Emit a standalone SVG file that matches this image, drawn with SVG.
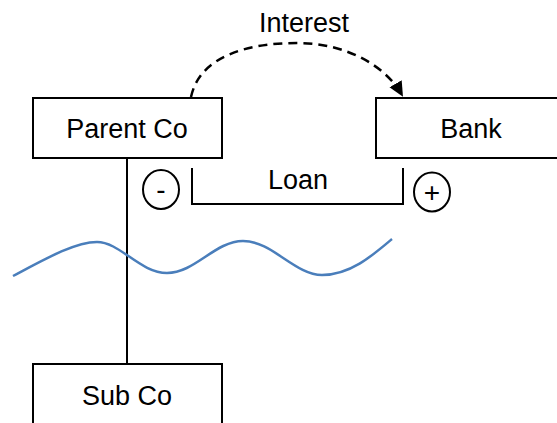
<svg xmlns="http://www.w3.org/2000/svg" width="557" height="423" viewBox="0 0 557 423">
<style>
.box{fill:#fff;stroke:#000;stroke-width:2}
.ln{fill:none;stroke:#000;stroke-width:2}
.t{font-family:"Liberation Sans",Arial,sans-serif;font-size:27px;fill:#000;text-anchor:middle}
.s{font-family:"Liberation Sans",Arial,sans-serif;font-size:28px;fill:#000;text-anchor:middle}
</style>
<defs>
<marker id="ah" markerWidth="16" markerHeight="16" refX="13" refY="7" orient="auto" markerUnits="userSpaceOnUse" viewBox="0 0 16 14">
<path d="M0,0 L15,7 L0,14 Z" fill="#000"/>
</marker>
</defs>
<rect width="557" height="423" fill="#fff"/>
<g id="connectors">
<path class="ln" d="M127,158 V364"/>
<path fill="none" stroke="#000" stroke-width="2.5" stroke-dasharray="9,6" d="M191,97 C200,55 250,43 297,43 C345,43 385,65 402,95" marker-end="url(#ah)"/>
<path class="ln" d="M192,168 V204 H403 V168"/>
</g>
<g id="parent">
<rect class="box" x="33" y="98" width="189" height="60"/>
<text class="t" x="127" y="138">Parent Co</text>
</g>
<g id="bank">
<rect class="box" x="376" y="98" width="192" height="60"/>
<text class="t" x="471" y="138">Bank</text>
</g>
<g id="sub">
<rect class="box" x="33" y="364" width="189" height="70"/>
<text class="t" x="127" y="405">Sub Co</text>
</g>
<g id="labels">
<text class="t" x="304" y="32">Interest</text>
<text class="t" x="298" y="189">Loan</text>
</g>
<g id="minus">
<ellipse class="ln" cx="161" cy="189.5" rx="18" ry="19.5"/>
<text class="s" x="161" y="199">-</text>
</g>
<g id="plus">
<ellipse class="ln" cx="432" cy="192" rx="18" ry="19.5"/>
<text class="s" x="432" y="202">+</text>
</g>
<path fill="none" stroke="#4A7EBB" stroke-width="2.5" d="M13,276 C45,259 75,242 97,242 C120,242 140,273 167,273 C195,273 215,241 243,241 C272,241 295,275 322,275 C350,275 372,256 392,239"/>
</svg>
